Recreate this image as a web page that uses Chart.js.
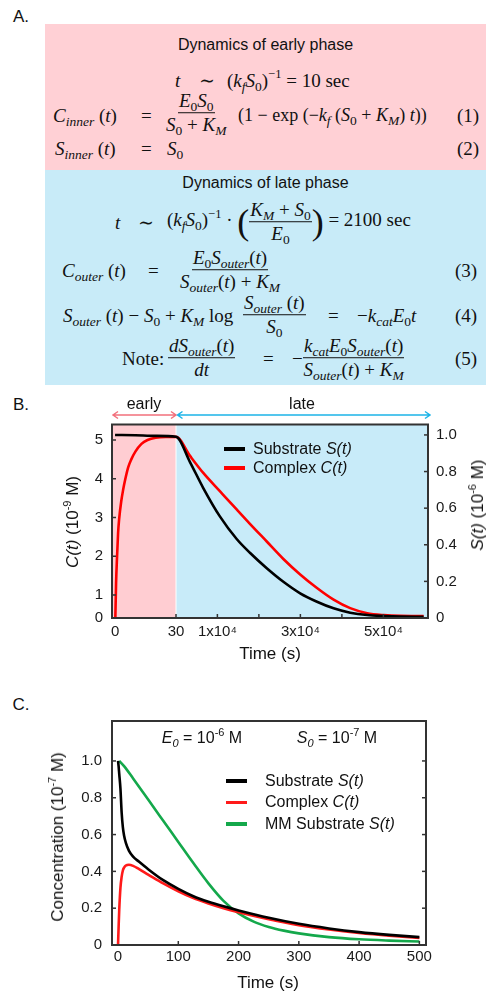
<!DOCTYPE html>
<html>
<head>
<meta charset="utf-8">
<script src="https://cdn.jsdelivr.net/npm/chart.js@4.4.1/dist/chart.umd.min.js"></script>
<style>
  html, body { margin: 0; padding: 0; background: #fff; }
  body { width: 486px; height: 995px; position: relative; overflow: hidden; font-family: 'Liberation Sans', Arial, sans-serif; color: #111; }
  .abs { position: absolute; white-space: nowrap; }
  .lbl { font-size: 17px; transform: translate(-50%, -50%); }
  .box { position: absolute; left: 45px; width: 441px; }
  .head { position: absolute; left: 45px; width: 441px; text-align: center; font-size: 16px; transform: translateY(-50%); }
  .mt { position: absolute; white-space: nowrap; font-family: 'Liberation Serif', 'DejaVu Serif', serif; font-size: 19px; line-height: 1; transform: translateY(-50%); color: #111; }
  .mt sub { font-size: 13.5px; vertical-align: -0.3em; line-height: 0; }
  .mt sup { font-size: 12.5px; vertical-align: 0.7em; line-height: 0; }
  .fr { display: inline-flex; flex-direction: column; align-items: center; vertical-align: middle; line-height: 1.12; }
  .fr > span:first-child { border-bottom: 1px solid #111; padding: 0 1px 1px; }
  .fr > span:last-child { padding-top: 1px; }
  .bp { font-size: 36px; vertical-align: middle; line-height: 0; font-weight: 300; }
  .ttl { position: absolute; white-space: nowrap; font-size: 17px; transform: translate(-50%, -50%); }
  .ttl.rot { transform: translate(-50%, -50%) rotate(-90deg); }
  .ttl sup, .ann sup { font-size: 11px; vertical-align: 0.6em; line-height: 0; }
  .ann { position: absolute; white-space: nowrap; font-size: 16px; transform: translate(-50%, -50%); }
  .ann sub { font-size: 11px; vertical-align: -0.35em; line-height: 0; }
  .legend { position: absolute; font-size: 16px; }
  .lg-row { display: flex; align-items: center; }
  .lg-line { display: inline-block; height: 3.5px; }
  .chart { position: absolute; left: 0; width: 486px; }
</style>
</head>
<body>

<!-- A. equations -->
<div class="abs lbl" style="left:21px;top:17px">A.</div>
<div class="box" style="top:24px;height:146px;background:#ffd0d5"></div>
<div class="box" style="top:170px;height:215px;background:#c8ebf8"></div>

<div class="head" style="top:45px">Dynamics of early phase</div>
<div class="mt" style="left:175px;top:80px"><i>t</i></div>
<div class="mt" style="left:199px;top:80px">∼</div>
<div class="mt" style="left:227px;top:80px">(<i>k<sub>f</sub>S</i><sub>0</sub>)<sup>−1</sup> = 10 sec</div>

<div class="mt" style="left:53px;top:115px"><i>C<sub>inner</sub></i> (<i>t</i>)</div>
<div class="mt" style="left:141px;top:115px">=</div>
<div class="mt" style="left:166px;top:113px"><span class="fr"><span><i>E</i><sub>0</sub><i>S</i><sub>0</sub></span><span><i>S</i><sub>0</sub> + <i>K<sub>M</sub></i></span></span></div>
<div class="mt" style="left:238px;top:115px;font-size:18px">(1 − exp (−<i>k<sub>f</sub></i> (<i>S</i><sub>0</sub> + <i>K<sub>M</sub></i>) <i>t</i>))</div>
<div class="mt" style="left:457px;top:115px">(1)</div>

<div class="mt" style="left:55px;top:148px"><i>S<sub>inner</sub></i> (<i>t</i>)</div>
<div class="mt" style="left:141px;top:148px">=</div>
<div class="mt" style="left:167px;top:148px"><i>S</i><sub>0</sub></div>
<div class="mt" style="left:457px;top:148px">(2)</div>

<div class="head" style="top:183px">Dynamics of late phase</div>
<div class="mt" style="left:115px;top:222px"><i>t</i></div>
<div class="mt" style="left:138px;top:222px">∼</div>
<div class="mt" style="left:167px;top:222px">(<i>k<sub>f</sub>S</i><sub>0</sub>)<sup>−1</sup> · <span class="bp">(</span><span class="fr"><span><i>K<sub>M</sub></i> + <i>S</i><sub>0</sub></span><span><i>E</i><sub>0</sub></span></span><span class="bp">)</span> = 2100 sec</div>

<div class="mt" style="left:62px;top:270px"><i>C<sub>outer</sub></i> (<i>t</i>)</div>
<div class="mt" style="left:148px;top:270px">=</div>
<div class="mt" style="left:180px;top:270px"><span class="fr"><span><i>E</i><sub>0</sub><i>S<sub>outer</sub></i>(<i>t</i>)</span><span><i>S<sub>outer</sub></i>(<i>t</i>) + <i>K<sub>M</sub></i></span></span></div>
<div class="mt" style="left:455px;top:270px">(3)</div>

<div class="mt" style="left:63px;top:315px"><i>S<sub>outer</sub></i> (<i>t</i>) − <i>S</i><sub>0</sub> + <i>K<sub>M</sub></i> log</div>
<div class="mt" style="left:243px;top:315px"><span class="fr"><span><i>S<sub>outer</sub></i> (<i>t</i>)</span><span><i>S</i><sub>0</sub></span></span></div>
<div class="mt" style="left:328px;top:315px">=</div>
<div class="mt" style="left:357px;top:315px">−<i>k<sub>cat</sub>E</i><sub>0</sub><i>t</i></div>
<div class="mt" style="left:455px;top:315px">(4)</div>

<div class="mt" style="left:122px;top:358px">Note:</div>
<div class="mt" style="left:168px;top:358px"><span class="fr"><span><i>dS<sub>outer</sub></i>(<i>t</i>)</span><span><i>dt</i></span></span></div>
<div class="mt" style="left:263px;top:358px">=</div>
<div class="mt" style="left:292px;top:358px">−</div>
<div class="mt" style="left:303px;top:358px"><span class="fr"><span><i>k<sub>cat</sub>E</i><sub>0</sub><i>S<sub>outer</sub></i>(<i>t</i>)</span><span><i>S<sub>outer</sub></i>(<i>t</i>) + <i>K<sub>M</sub></i></span></span></div>
<div class="mt" style="left:455px;top:358px">(5)</div>

<!-- B. early / late phase chart -->
<div class="abs lbl" style="left:21px;top:405px">B.</div>
<div class="chart" style="top:390px;height:270px"><canvas id="chartB"></canvas></div>
<div class="ttl rot" style="left:73px;top:522px"><i>C(t)</i> (10<sup>-9</sup> M)</div>
<div class="ttl rot" style="left:478px;top:505px"><i>S(t)</i> (10<sup>-6</sup> M)</div>
<div class="ttl" style="left:270px;top:654px">Time (s)</div>
<div class="legend" id="legendB" style="left:224px;top:439.5px"></div>

<!-- C. full dynamics chart -->
<div class="abs lbl" style="left:21px;top:705px">C.</div>
<div class="chart" style="top:700px;height:295px"><canvas id="chartC"></canvas></div>
<div class="ttl rot" style="left:58px;top:837px">Concentration (10<sup>-7</sup> M)</div>
<div class="ttl" style="left:268px;top:983px">Time (s)</div>
<div class="ann" style="left:202px;top:738px"><i>E<sub>0</sub></i> = 10<sup>-6</sup> M</div>
<div class="ann" style="left:337px;top:738px"><i>S<sub>0</sub></i> = 10<sup>-7</sup> M</div>
<div class="legend" id="legendC" style="left:226px;top:770px"></div>

<script>
// Panel B: early phase (0-30 s) and late phase (30 s - 6x10^4 s)
const phaseNames = ['early', 'late'];
const phaseSplit = 30;

const earlyComplexTime = [0, 0.5, 1, 1.5, 2, 3, 4, 5, 6.5, 8, 10, 13, 16, 20, 25, 30];
const earlyComplex     = [0, 1.3, 2.0, 2.6, 2.95, 3.4, 3.72, 3.98, 4.3, 4.5, 4.7, 4.9, 5.0, 5.06, 5.08, 5.08];
const earlySubstrateTime = [0, 10, 20, 30];
const earlySubstrate     = [1.0, 0.998, 0.995, 0.99];

const lateTime      = [3400, 6600, 10600, 14700, 17900, 21900, 25900, 29950, 34000, 38000, 42000, 46100, 50100, 54100, 59700];
const lateSubstrate = [0.852, 0.71, 0.555, 0.43, 0.355, 0.272, 0.198, 0.135, 0.089, 0.053, 0.029, 0.016, 0.011, 0.008, 0.007];
const lateComplex   = [4.59, 4.15, 3.68, 3.2, 2.83, 2.38, 1.93, 1.53, 1.18, 0.88, 0.66, 0.53, 0.48, 0.46, 0.455];

const bTimeTicks  = [0, 30, 10000, 20000, 30000, 40000, 50000];
const bTimeLabels = ['0', '30', '1x10⁴', '', '3x10⁴', '', '5x10⁴'];
const bComplexTicks  = [0.406, 1, 2, 3, 4, 5];   // the "0" label sits on the frame
const bComplexLabels = ['0', '1', '2', '3', '4', '5'];
const bSubstrateTicks  = [0, 0.2, 0.4, 0.6, 0.8, 1.0];
const bSubstrateLabels = ['0', '0.2', '0.4', '0.6', '0.8', '1.0'];

// Panel C: E0 = 1e-6 M, S0 = 1e-7 M
const cTime      = [0, 1, 2, 4, 6, 8, 10, 13, 18, 25, 35, 50, 75, 100, 125, 150, 175, 200, 250, 300, 350, 400, 450, 500];
const cSubstrate = [1.0, 0.97, 0.93, 0.85, 0.72, 0.64, 0.595, 0.555, 0.513, 0.48, 0.452, 0.412, 0.352, 0.305, 0.265, 0.235, 0.21, 0.188, 0.148, 0.115, 0.09, 0.07, 0.055, 0.043];
const cComplex   = [0, 0.1, 0.19, 0.31, 0.37, 0.405, 0.42, 0.432, 0.436, 0.43, 0.412, 0.383, 0.335, 0.292, 0.255, 0.226, 0.2, 0.178, 0.14, 0.108, 0.084, 0.065, 0.05, 0.038];
const mmTime      = [2, 10, 25, 50, 75, 100, 125, 150, 175, 200, 225, 250, 275, 300, 350, 400, 450, 500];
const mmSubstrate = [1.0, 0.972, 0.905, 0.79, 0.675, 0.56, 0.445, 0.335, 0.24, 0.172, 0.127, 0.098, 0.078, 0.063, 0.043, 0.031, 0.024, 0.019];

const cTimeTicks = [0, 100, 200, 300, 400, 500];
const cConcTicks = [0, 0.2, 0.4, 0.6, 0.8, 1.0];

const pts = (xs, ys) => xs.map((x, i) => ({ x, y: ys[i] }));

Chart.defaults.font.family = "'Liberation Sans', Arial, sans-serif";
Chart.defaults.font.size = 15;
Chart.defaults.color = '#1a1a1a';

// linear axis whose first part (up to phaseSplit) gets a fixed share of the width
const LinearScale = Chart.LinearScale || Chart.registry.getScale('linear');
const SPLIT_SHARE = 64 / 316;
class SplitScale extends LinearScale {
  getPixelForValue(v) {
    const w = this.width, l = this.left;
    if (v <= phaseSplit) return l + SPLIT_SHARE * w * (v - this.min) / (phaseSplit - this.min);
    return l + SPLIT_SHARE * w + (1 - SPLIT_SHARE) * w * (v - phaseSplit) / (this.max - phaseSplit);
  }
  getValueForPixel(p) {
    const w = this.width, edge = this.left + SPLIT_SHARE * w;
    if (p <= edge) return this.min + (p - this.left) / (SPLIT_SHARE * w) * (phaseSplit - this.min);
    return phaseSplit + (p - edge) / ((1 - SPLIT_SHARE) * w) * (this.max - phaseSplit);
  }
}
SplitScale.id = 'split';
SplitScale.defaults = LinearScale.defaults;
Chart.register(SplitScale);

function drawArrow(ctx, x1, x2, y, color) {
  ctx.strokeStyle = color;
  ctx.lineWidth = 1.5;
  ctx.beginPath();
  ctx.moveTo(x1, y); ctx.lineTo(x2, y);
  ctx.moveTo(x1 + 5, y - 3.5); ctx.lineTo(x1, y); ctx.lineTo(x1 + 5, y + 3.5);
  ctx.moveTo(x2 - 5, y - 3.5); ctx.lineTo(x2, y); ctx.lineTo(x2 - 5, y + 3.5);
  ctx.stroke();
}

const phaseBands = {
  id: 'phaseBands',
  beforeDatasetsDraw(chart) {
    const { ctx, chartArea: a, scales: { x } } = chart;
    const split = x.getPixelForValue(phaseSplit);
    ctx.save();
    ctx.fillStyle = '#ffcdd2';
    ctx.fillRect(a.left, a.top, split - a.left - 0.5, a.height);
    ctx.fillStyle = '#c8ebf9';
    ctx.fillRect(split + 0.5, a.top, a.right - split - 0.5, a.height);
    drawArrow(ctx, a.left + 1, split, a.top - 9.5, '#f2707c');
    drawArrow(ctx, split + 1.5, a.right + 2, a.top - 9.5, '#1cb4e8');
    ctx.fillStyle = '#111';
    ctx.font = "16px 'Liberation Sans', Arial, sans-serif";
    ctx.textAlign = 'center';
    ctx.textBaseline = 'middle';
    ctx.fillText(phaseNames[0], (a.left + split) / 2, a.top - 20);
    ctx.fillText(phaseNames[1], (split + a.right) / 2, a.top - 20);
    ctx.restore();
  }
};

// inward tick marks and the plot frame
const innerTicks = {
  id: 'innerTicks',
  afterDraw(chart, args, opts) {
    const { ctx, chartArea: a } = chart;
    ctx.save();
    ctx.strokeStyle = '#333';
    ctx.lineWidth = 1.5;
    opts.marks.forEach(m => {
      const s = chart.scales[m.scale];
      s.ticks.forEach(t => {
        if (m.skip.includes(t.value)) return;
        const p = s.getPixelForValue(t.value);
        ctx.beginPath();
        if (m.side === 'bottom') { ctx.moveTo(p, a.bottom); ctx.lineTo(p, a.bottom - 4); }
        if (m.side === 'left') { ctx.moveTo(a.left, p); ctx.lineTo(a.left + 4, p); }
        if (m.side === 'right') { ctx.moveTo(a.right, p); ctx.lineTo(a.right - 4, p); }
        ctx.stroke();
      });
    });
    ctx.strokeStyle = '#333';
    ctx.lineWidth = 2;
    ctx.strokeRect(a.left, a.top, a.width, a.height);
    ctx.restore();
  }
};

function htmlLegend(chart, el, gap, rowH) {
  el.innerHTML = chart.data.datasets.map(ds => {
    const k = ds.label.lastIndexOf(' ');
    return `<div class="lg-row" style="height:${rowH}px">
      <span class="lg-line" style="width:21px;background:${ds.borderColor};margin-right:${gap}px"></span>
      <span>${ds.label.slice(0, k)} <i>${ds.label.slice(k + 1)}</i></span></div>`;
  }).join('');
}

const fixedTicks = (values) => (s) => { s.ticks = values.map(v => ({ value: v })); };
const labelFrom = (values, labels) => (v) => labels[values.indexOf(v)];

const chartB = new Chart(document.getElementById('chartB'), {
  type: 'line',
  data: {
    datasets: [
      {
        label: 'Substrate S(t)', yAxisID: 'yS', borderColor: '#000000',
        data: pts(earlySubstrateTime.concat(lateTime), earlySubstrate.concat(lateSubstrate))
      },
      {
        label: 'Complex C(t)', yAxisID: 'yC', borderColor: '#ff0000',
        data: pts(earlyComplexTime.concat(lateTime), earlyComplex.concat(lateComplex))
      }
    ]
  },
  options: {
    responsive: true,
    maintainAspectRatio: false,
    animation: false,
    layout: { padding: { top: 34.5, left: 0, right: 0, bottom: 0 } },
    elements: {
      point: { radius: 0 },
      line: { borderWidth: 2.6, cubicInterpolationMode: 'monotone' }
    },
    plugins: {
      legend: { display: false },
      tooltip: { enabled: false },
      innerTicks: {
        marks: [
          { scale: 'x', side: 'bottom', skip: [0] },
          { scale: 'yC', side: 'left', skip: [0.406] },
          { scale: 'yS', side: 'right', skip: [0] }
        ]
      }
    },
    scales: {
      x: {
        type: 'split', min: -1.5, max: 60750,
        grid: { display: false, drawTicks: false }, border: { display: false },
        afterBuildTicks: fixedTicks(bTimeTicks),
        afterFit: s => { s.height = 42; },
        ticks: { autoSkip: false, maxRotation: 0, padding: 5, callback: labelFrom(bTimeTicks, bTimeLabels) }
      },
      yC: {
        type: 'linear', position: 'left', min: 0.406, max: 5.4,
        grid: { display: false, drawTicks: false }, border: { display: false },
        afterBuildTicks: fixedTicks(bComplexTicks),
        afterFit: s => { s.width = 112; },
        ticks: { padding: 9, callback: labelFrom(bComplexTicks, bComplexLabels) }
      },
      yS: {
        type: 'linear', position: 'right', min: 0, max: 1.057,
        grid: { display: false, drawTicks: false }, border: { display: false },
        afterBuildTicks: fixedTicks(bSubstrateTicks),
        afterFit: s => { s.width = 58; },
        ticks: { padding: 8, callback: labelFrom(bSubstrateTicks, bSubstrateLabels) }
      }
    }
  },
  plugins: [phaseBands, innerTicks]
});
htmlLegend(chartB, document.getElementById('legendB'), 8, 19);

const chartC = new Chart(document.getElementById('chartC'), {
  type: 'line',
  data: {
    datasets: [
      { label: 'Substrate S(t)', borderColor: '#000000', data: pts(cTime, cSubstrate) },
      { label: 'Complex C(t)', borderColor: '#ff1a1a', data: pts(cTime, cComplex) },
      { label: 'MM Substrate S(t)', borderColor: '#14a84b', data: pts(mmTime, mmSubstrate) }
    ]
  },
  options: {
    responsive: true,
    maintainAspectRatio: false,
    animation: false,
    layout: { padding: { top: 21, left: 0, right: 60, bottom: 0 } },
    elements: {
      point: { radius: 0 },
      line: { borderWidth: 2.6, cubicInterpolationMode: 'monotone' }
    },
    plugins: {
      legend: { display: false },
      tooltip: { enabled: false },
      innerTicks: {
        marks: [
          { scale: 'x', side: 'bottom', skip: [0] },
          { scale: 'y', side: 'left', skip: [0] },
          { scale: 'y', side: 'right', skip: [0] }
        ]
      }
    },
    scales: {
      x: {
        type: 'linear', min: -10, max: 511,
        grid: { display: false, drawTicks: false }, border: { display: false },
        afterBuildTicks: fixedTicks(cTimeTicks),
        afterFit: s => { s.height = 50; },
        ticks: { autoSkip: false, maxRotation: 0, padding: 3 }
      },
      y: {
        type: 'linear', min: 0, max: 1.217,
        grid: { display: false, drawTicks: false }, border: { display: false },
        afterBuildTicks: fixedTicks(cConcTicks),
        afterFit: s => { s.width = 112; },
        ticks: { padding: 10, callback: v => (v === 0 ? '0' : v.toFixed(1)) }
      }
    }
  },
  plugins: [innerTicks]
});
htmlLegend(chartC, document.getElementById('legendC'), 18, 21.5);
</script>
</body>
</html>
